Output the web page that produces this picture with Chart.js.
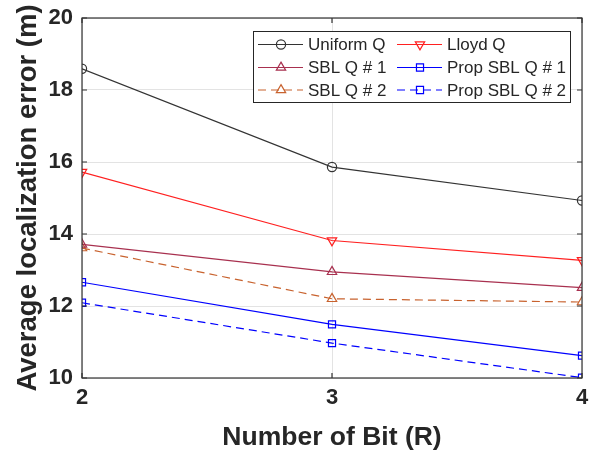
<!DOCTYPE html>
<html>
<head>
<meta charset="utf-8">
<script src="https://cdn.jsdelivr.net/npm/chart.js@4.4.1/dist/chart.umd.min.js"></script>
<style>
html,body{margin:0;padding:0;background:#fff;}
#wrap{width:590px;height:454px;position:relative;}
</style>
</head>
<body>
<div id="wrap"><canvas id="c" width="590" height="454"></canvas></div>
<script>
const bits = [2, 3, 4];
const uniformQ = [18.59, 15.86, 14.93];
const lloydQ = [15.72, 13.82, 13.27];
const sblQ1 = [13.71, 12.95, 12.51];
const sblQ2 = [13.61, 12.20, 12.11];
const propSblQ1 = [12.66, 11.49, 10.62];
const propSblQ2 = [12.09, 10.97, 10.01];
const yTicks = [10, 12, 14, 16, 18, 20];
const seriesNames = ['Uniform Q', 'Lloyd Q', 'SBL Q # 1', 'Prop SBL Q # 1', 'SBL Q # 2', 'Prop SBL Q # 2'];

const FONT = '"Liberation Sans", Arial, Helvetica, sans-serif';
const TXT = '#262626';

function pts(arr){ return arr.map((v,i)=>({x:bits[i], y:v})); }
function ds(label, data, color, style, rot, dash){
  const r = style==='rect' ? 5 : (style==='triangle' ? 5.4 : 4.6);
  return {
    label, data: pts(data), borderColor: color, backgroundColor: 'rgba(0,0,0,0)',
    borderWidth: 1.2, pointStyle: style, pointRotation: rot || 0, pointRadius: r,
    pointBorderWidth: 1.2, pointBorderColor: color, pointBackgroundColor: 'rgba(0,0,0,0)',
    borderDash: dash || [], tension: 0, fill: false
  };
}
const datasets = [
  ds(seriesNames[0], uniformQ, '#333333', 'circle', 0),
  ds(seriesNames[1], lloydQ, '#ff2020', 'triangle', 180),
  ds(seriesNames[2], sblQ1, '#a8304f', 'triangle', 0),
  ds(seriesNames[3], propSblQ1, '#0000ff', 'rect', 0),
  ds(seriesNames[4], sblQ2, '#c8622e', 'triangle', 0, [8,5]),
  ds(seriesNames[5], propSblQ2, '#0000ff', 'rect', 0, [8,5])
];

const frameAndLegend = {
  id: 'frameAndLegend',
  afterDatasetsDraw(chart){
    const {ctx, chartArea:a, scales} = chart;
    ctx.save();
    ctx.strokeStyle = '#333333'; ctx.lineWidth = 1.2; ctx.setLineDash([]);
    ctx.strokeRect(a.left, a.top, a.right-a.left, a.bottom-a.top);
    ctx.beginPath();
    yTicks.forEach(t=>{
      const y = scales.y.getPixelForValue(t);
      ctx.moveTo(a.left, y); ctx.lineTo(a.left+5, y);
      ctx.moveTo(a.right, y); ctx.lineTo(a.right-5, y);
    });
    bits.forEach(b=>{
      const x = scales.x.getPixelForValue(b);
      ctx.moveTo(x, a.bottom); ctx.lineTo(x, a.bottom-5);
      ctx.moveTo(x, a.top); ctx.lineTo(x, a.top+5);
    });
    ctx.stroke();
    // legend
    const bx=253, by=31, bw=317, bh=71;
    ctx.fillStyle='#fff'; ctx.fillRect(bx,by,bw,bh);
    ctx.strokeStyle='#262626'; ctx.lineWidth=1; ctx.strokeRect(bx+0.5,by+0.5,bw,bh);
    const cols=[{l0:258,l1:303,m:281,t:308},{l0:397,l1:442,m:420,t:447}];
    const rows=[44.5,67.5,90];
    ctx.font = '17px '+FONT; ctx.textBaseline='middle'; ctx.textAlign='left';
    datasets.forEach((d,i)=>{
      const c=cols[i%2], y=rows[Math.floor(i/2)];
      ctx.strokeStyle=d.borderColor; ctx.lineWidth=1.2;
      ctx.setLineDash(d.borderDash.length?[8,5]:[]);
      ctx.beginPath(); ctx.moveTo(c.l0,y); ctx.lineTo(c.l1,y); ctx.stroke();
      ctx.setLineDash([]);
      ctx.fillStyle='rgba(0,0,0,0)';
      ctx.strokeStyle=d.borderColor;
      Chart.helpers.drawPoint(ctx,{pointStyle:d.pointStyle,radius:d.pointRadius,rotation:d.pointRotation,borderWidth:1.2},c.m,y);
      ctx.fillStyle=TXT;
      ctx.fillText(d.label,c.t,y+1);
    });
    ctx.restore();
  }
};

new Chart(document.getElementById('c'), {
  type: 'line',
  data: { datasets },
  options: {
    responsive: false, animation: false, devicePixelRatio: 1,
    layout: { padding: { top: 18, right: 8, left: 0, bottom: 0 } },
    plugins: { legend: { display: false }, tooltip: { enabled: false } },
    scales: {
      x: {
        type: 'linear', min: 2, max: 4,
        afterBuildTicks(s){ s.ticks = bits.map(v=>({value:v})); },
        afterFit(s){ s.height = 76; s.paddingLeft = 0; s.paddingRight = 0; },
        grid: { color: '#e3e3e3', lineWidth: 1, drawTicks: false },
        border: { display: false },
        ticks: { color: TXT, font: { family: FONT, size: 22, weight: 'bold' }, padding: 7, maxRotation: 0 },
        title: { display: true, text: 'Number of Bit (R)', color: TXT, font: { family: FONT, size: 26.5, weight: 'bold' }, padding: { top: 2, bottom: 0 } }
      },
      y: {
        type: 'linear', min: 10, max: 20,
        afterBuildTicks(s){ s.ticks = yTicks.map(v=>({value:v})); },
        afterFit(s){ s.width = 82; s.paddingTop = 0; s.paddingBottom = 0; },
        grid: { color: '#e3e3e3', lineWidth: 1, drawTicks: false },
        border: { display: false },
        ticks: { color: TXT, font: { family: FONT, size: 22, weight: 'bold' }, padding: 9 },
        title: { display: true, text: 'Average localization error (m)', color: TXT, font: { family: FONT, size: 27.5, weight: 'bold' }, padding: { top: 12, bottom: 0 } }
      }
    }
  },
  plugins: [frameAndLegend]
});
</script>
</body>
</html>
